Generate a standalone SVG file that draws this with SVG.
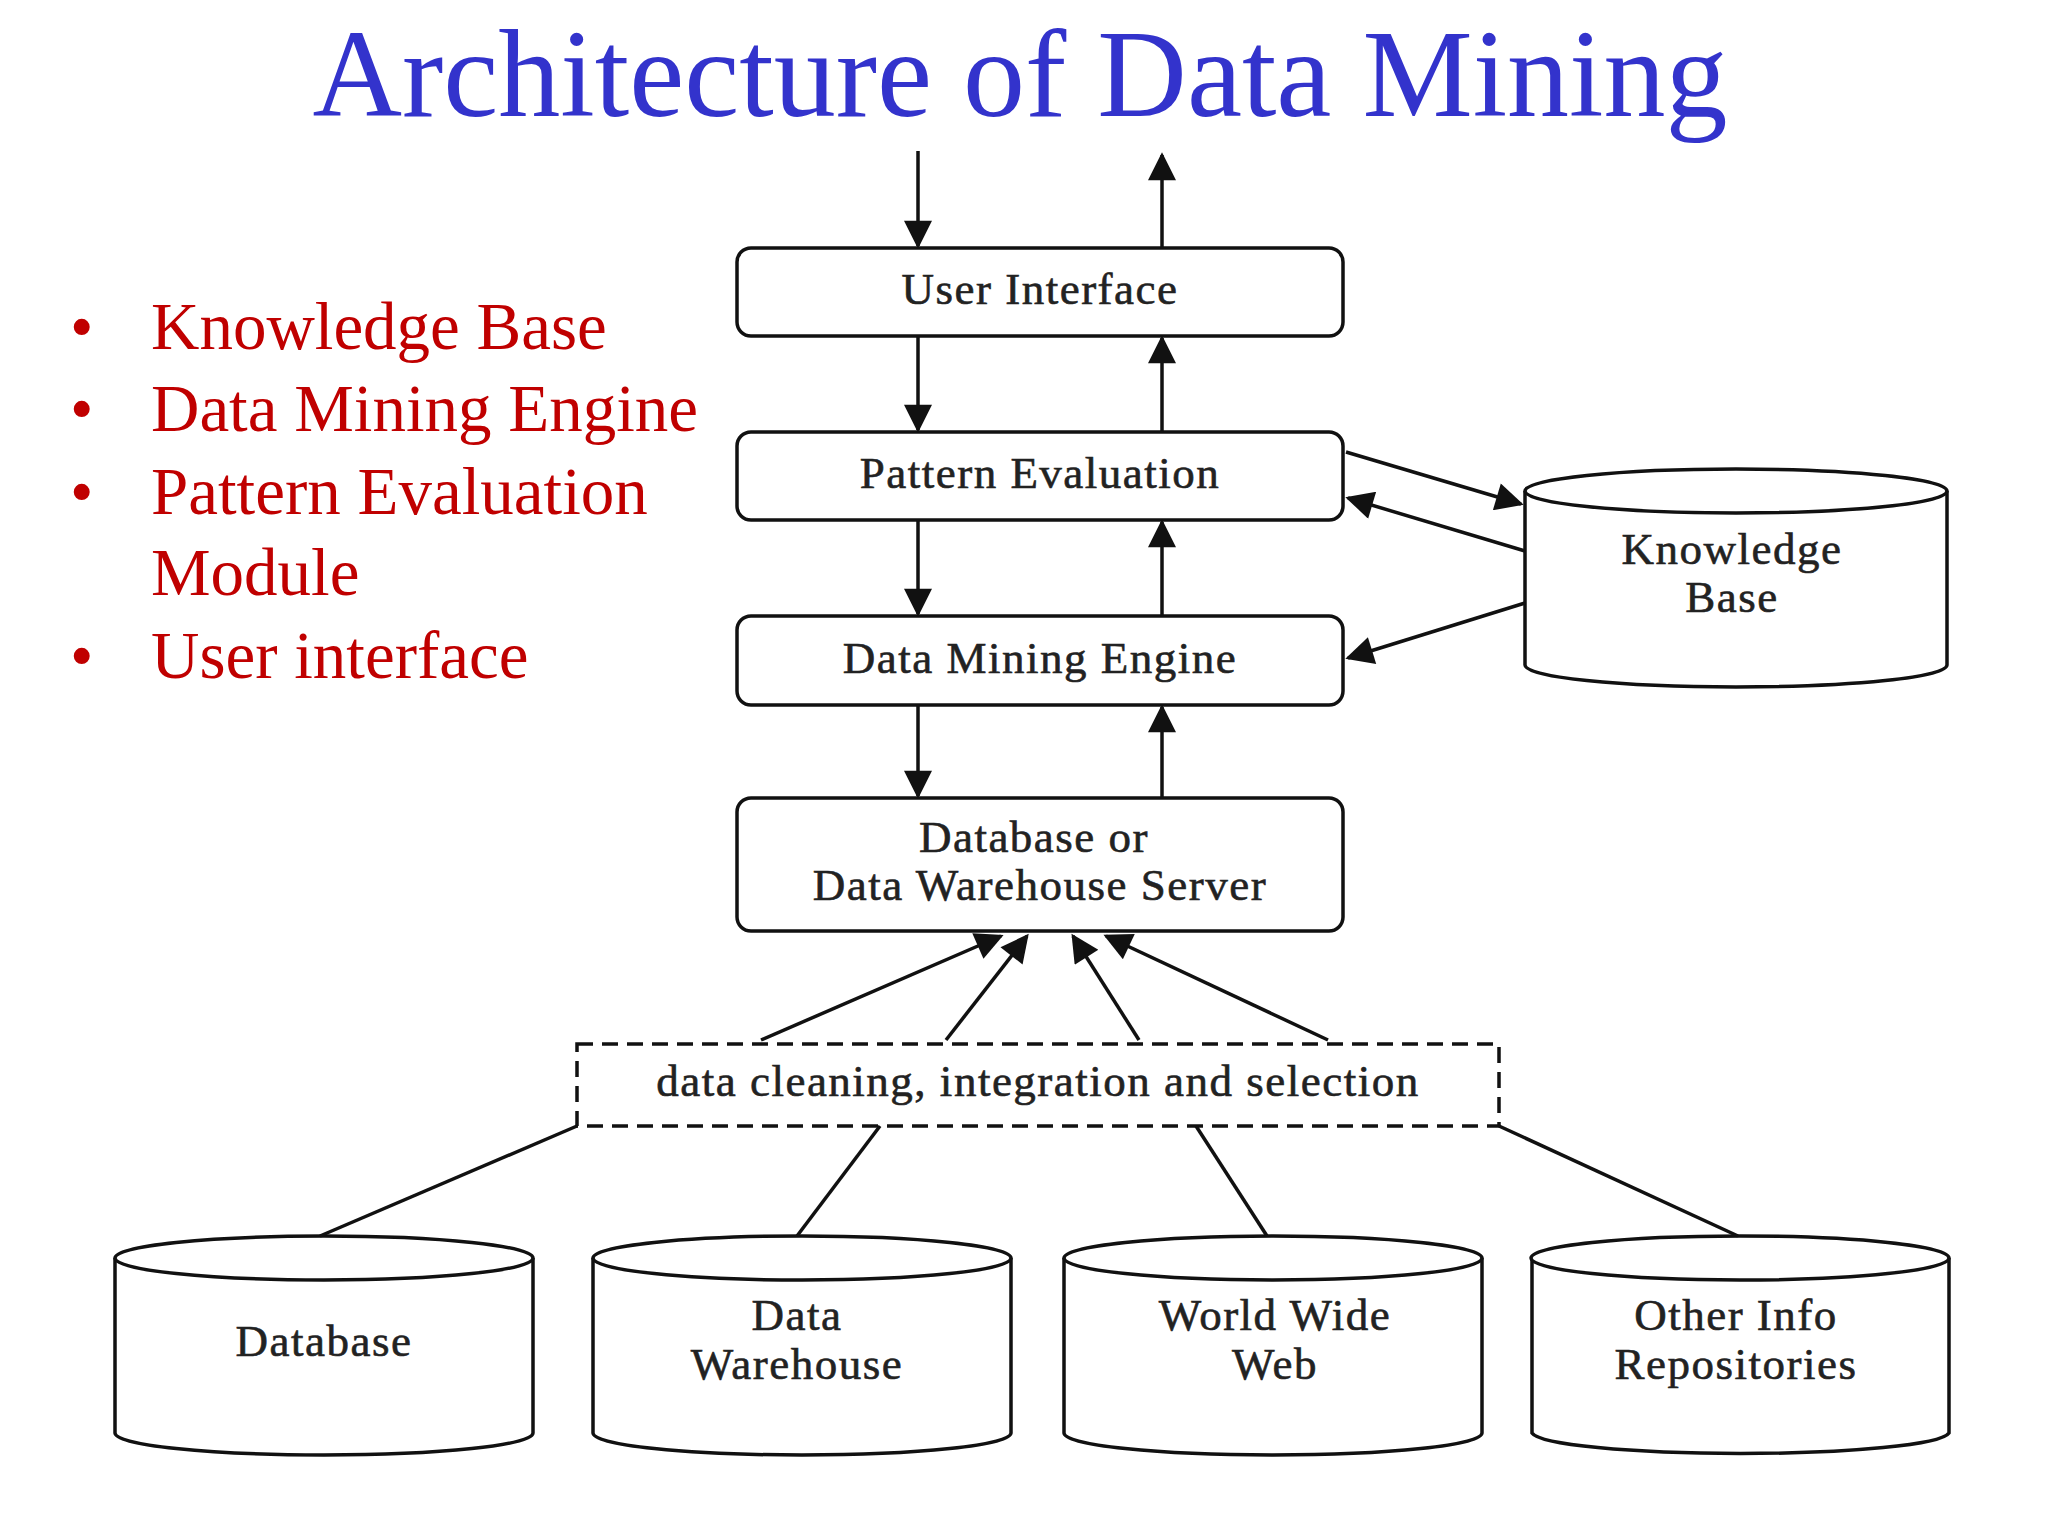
<svg xmlns="http://www.w3.org/2000/svg" width="2048" height="1536" viewBox="0 0 2048 1536">
<style>
.t{font-family:"Liberation Serif",serif;font-size:45px;letter-spacing:1.5px;fill:#222;stroke:#222;stroke-width:0.6;text-anchor:middle}
.b{font-family:"Liberation Serif",serif;font-size:67px;fill:#c00000}
.box{fill:#fff;stroke:#111;stroke-width:3.5}
.ln{stroke:#111;stroke-width:3.5;fill:none}
</style>
<defs>
<marker id="ah" viewBox="0 0 10 10" refX="9" refY="5" markerWidth="38" markerHeight="28" markerUnits="userSpaceOnUse" orient="auto"><path d="M0,0L10,5L0,10z" fill="#111"/></marker></defs>
<rect width="2048" height="1536" fill="#fff"/>
<text x="1020" y="116" font-family="'Liberation Serif',serif" font-size="124" fill="#3333cc" text-anchor="middle">Architecture of Data Mining</text>
<g id="bullets">
<text class="b" x="70" y="349">•</text><text class="b" x="151" y="349">Knowledge Base</text>
<text class="b" x="70" y="431">•</text><text class="b" x="151" y="431">Data Mining Engine</text>
<text class="b" x="70" y="514">•</text><text class="b" x="151" y="514">Pattern Evaluation</text>
<text class="b" x="151" y="595">Module</text>
<text class="b" x="70" y="678">•</text><text class="b" x="151" y="678">User interface</text>
</g>
<g id="ui"><rect class="box" x="737" y="248" width="606" height="88" rx="14"/><text class="t" x="1040" y="304">User Interface</text></g>
<g id="pe"><rect class="box" x="737" y="432" width="606" height="88" rx="14"/><text class="t" x="1040" y="488">Pattern Evaluation</text></g>
<g id="dme"><rect class="box" x="737" y="616" width="606" height="89" rx="14"/><text class="t" x="1040" y="673">Data Mining Engine</text></g>
<g id="srv"><rect class="box" x="737" y="798" width="606" height="133" rx="14"/><text class="t" x="1034" y="852">Database or</text><text class="t" x="1040" y="900">Data Warehouse Server</text></g>
<g id="kb"><path class="box" d="M1525,491 V665 A211,22 0 0 0 1947,665 V491"/><ellipse class="box" cx="1736" cy="491" rx="211" ry="22"/><text class="t" x="1732" y="564">Knowledge</text><text class="t" x="1732" y="612">Base</text></g>
<g id="clean"><rect x="577" y="1044" width="922" height="82" fill="#fff" stroke="#111" stroke-width="3.5" stroke-dasharray="16,9"/><text class="t" x="1038" y="1096">data cleaning, integration and selection</text></g>
<g id="db"><path class="box" d="M115,1258 V1433 A209,22 0 0 0 533,1433 V1258"/><ellipse class="box" cx="324" cy="1258" rx="209" ry="22"/><text class="t" x="324" y="1356">Database</text></g>
<g id="dw"><path class="box" d="M593,1258 V1433 A209,22 0 0 0 1011,1433 V1258"/><ellipse class="box" cx="802" cy="1258" rx="209" ry="22"/><text class="t" x="797" y="1330">Data</text><text class="t" x="797" y="1379">Warehouse</text></g>
<g id="www"><path class="box" d="M1064,1258 V1433 A209,22 0 0 0 1482,1433 V1258"/><ellipse class="box" cx="1273" cy="1258" rx="209" ry="22"/><text class="t" x="1275" y="1330">World Wide</text><text class="t" x="1275" y="1379">Web</text></g>
<g id="oir"><path class="box" d="M1532,1258 V1433 A209,22 0 0 0 1949,1433 V1258"/><ellipse class="box" cx="1740" cy="1258" rx="209" ry="22"/><text class="t" x="1736" y="1330">Other Info</text><text class="t" x="1736" y="1379">Repositories</text></g>
<g id="connectors" class="ln">
<line x1="918" y1="151" x2="918" y2="246" marker-end="url(#ah)"/>
<line x1="1162" y1="248" x2="1162" y2="155" marker-end="url(#ah)"/>
<line x1="918" y1="336" x2="918" y2="430" marker-end="url(#ah)"/>
<line x1="1162" y1="432" x2="1162" y2="338" marker-end="url(#ah)"/>
<line x1="918" y1="520" x2="918" y2="614" marker-end="url(#ah)"/>
<line x1="1162" y1="616" x2="1162" y2="522" marker-end="url(#ah)"/>
<line x1="918" y1="705" x2="918" y2="796" marker-end="url(#ah)"/>
<line x1="1162" y1="798" x2="1162" y2="707" marker-end="url(#ah)"/>
<line x1="1346" y1="452" x2="1521" y2="504" marker-end="url(#ah)"/>
<line x1="1525" y1="551" x2="1348" y2="498" marker-end="url(#ah)"/>
<line x1="1525" y1="603" x2="1348" y2="658" marker-end="url(#ah)"/>
<line x1="761" y1="1040" x2="1001" y2="936" marker-end="url(#ah)"/>
<line x1="946" y1="1040" x2="1027" y2="936" marker-end="url(#ah)"/>
<line x1="1139" y1="1040" x2="1073" y2="936" marker-end="url(#ah)"/>
<line x1="1328" y1="1040" x2="1106" y2="936" marker-end="url(#ah)"/>
<line x1="577" y1="1126" x2="320" y2="1236"/>
<line x1="880" y1="1126" x2="797" y2="1236"/>
<line x1="1196" y1="1126" x2="1267" y2="1236"/>
<line x1="1499" y1="1126" x2="1738" y2="1236"/>
</g>
</svg>
